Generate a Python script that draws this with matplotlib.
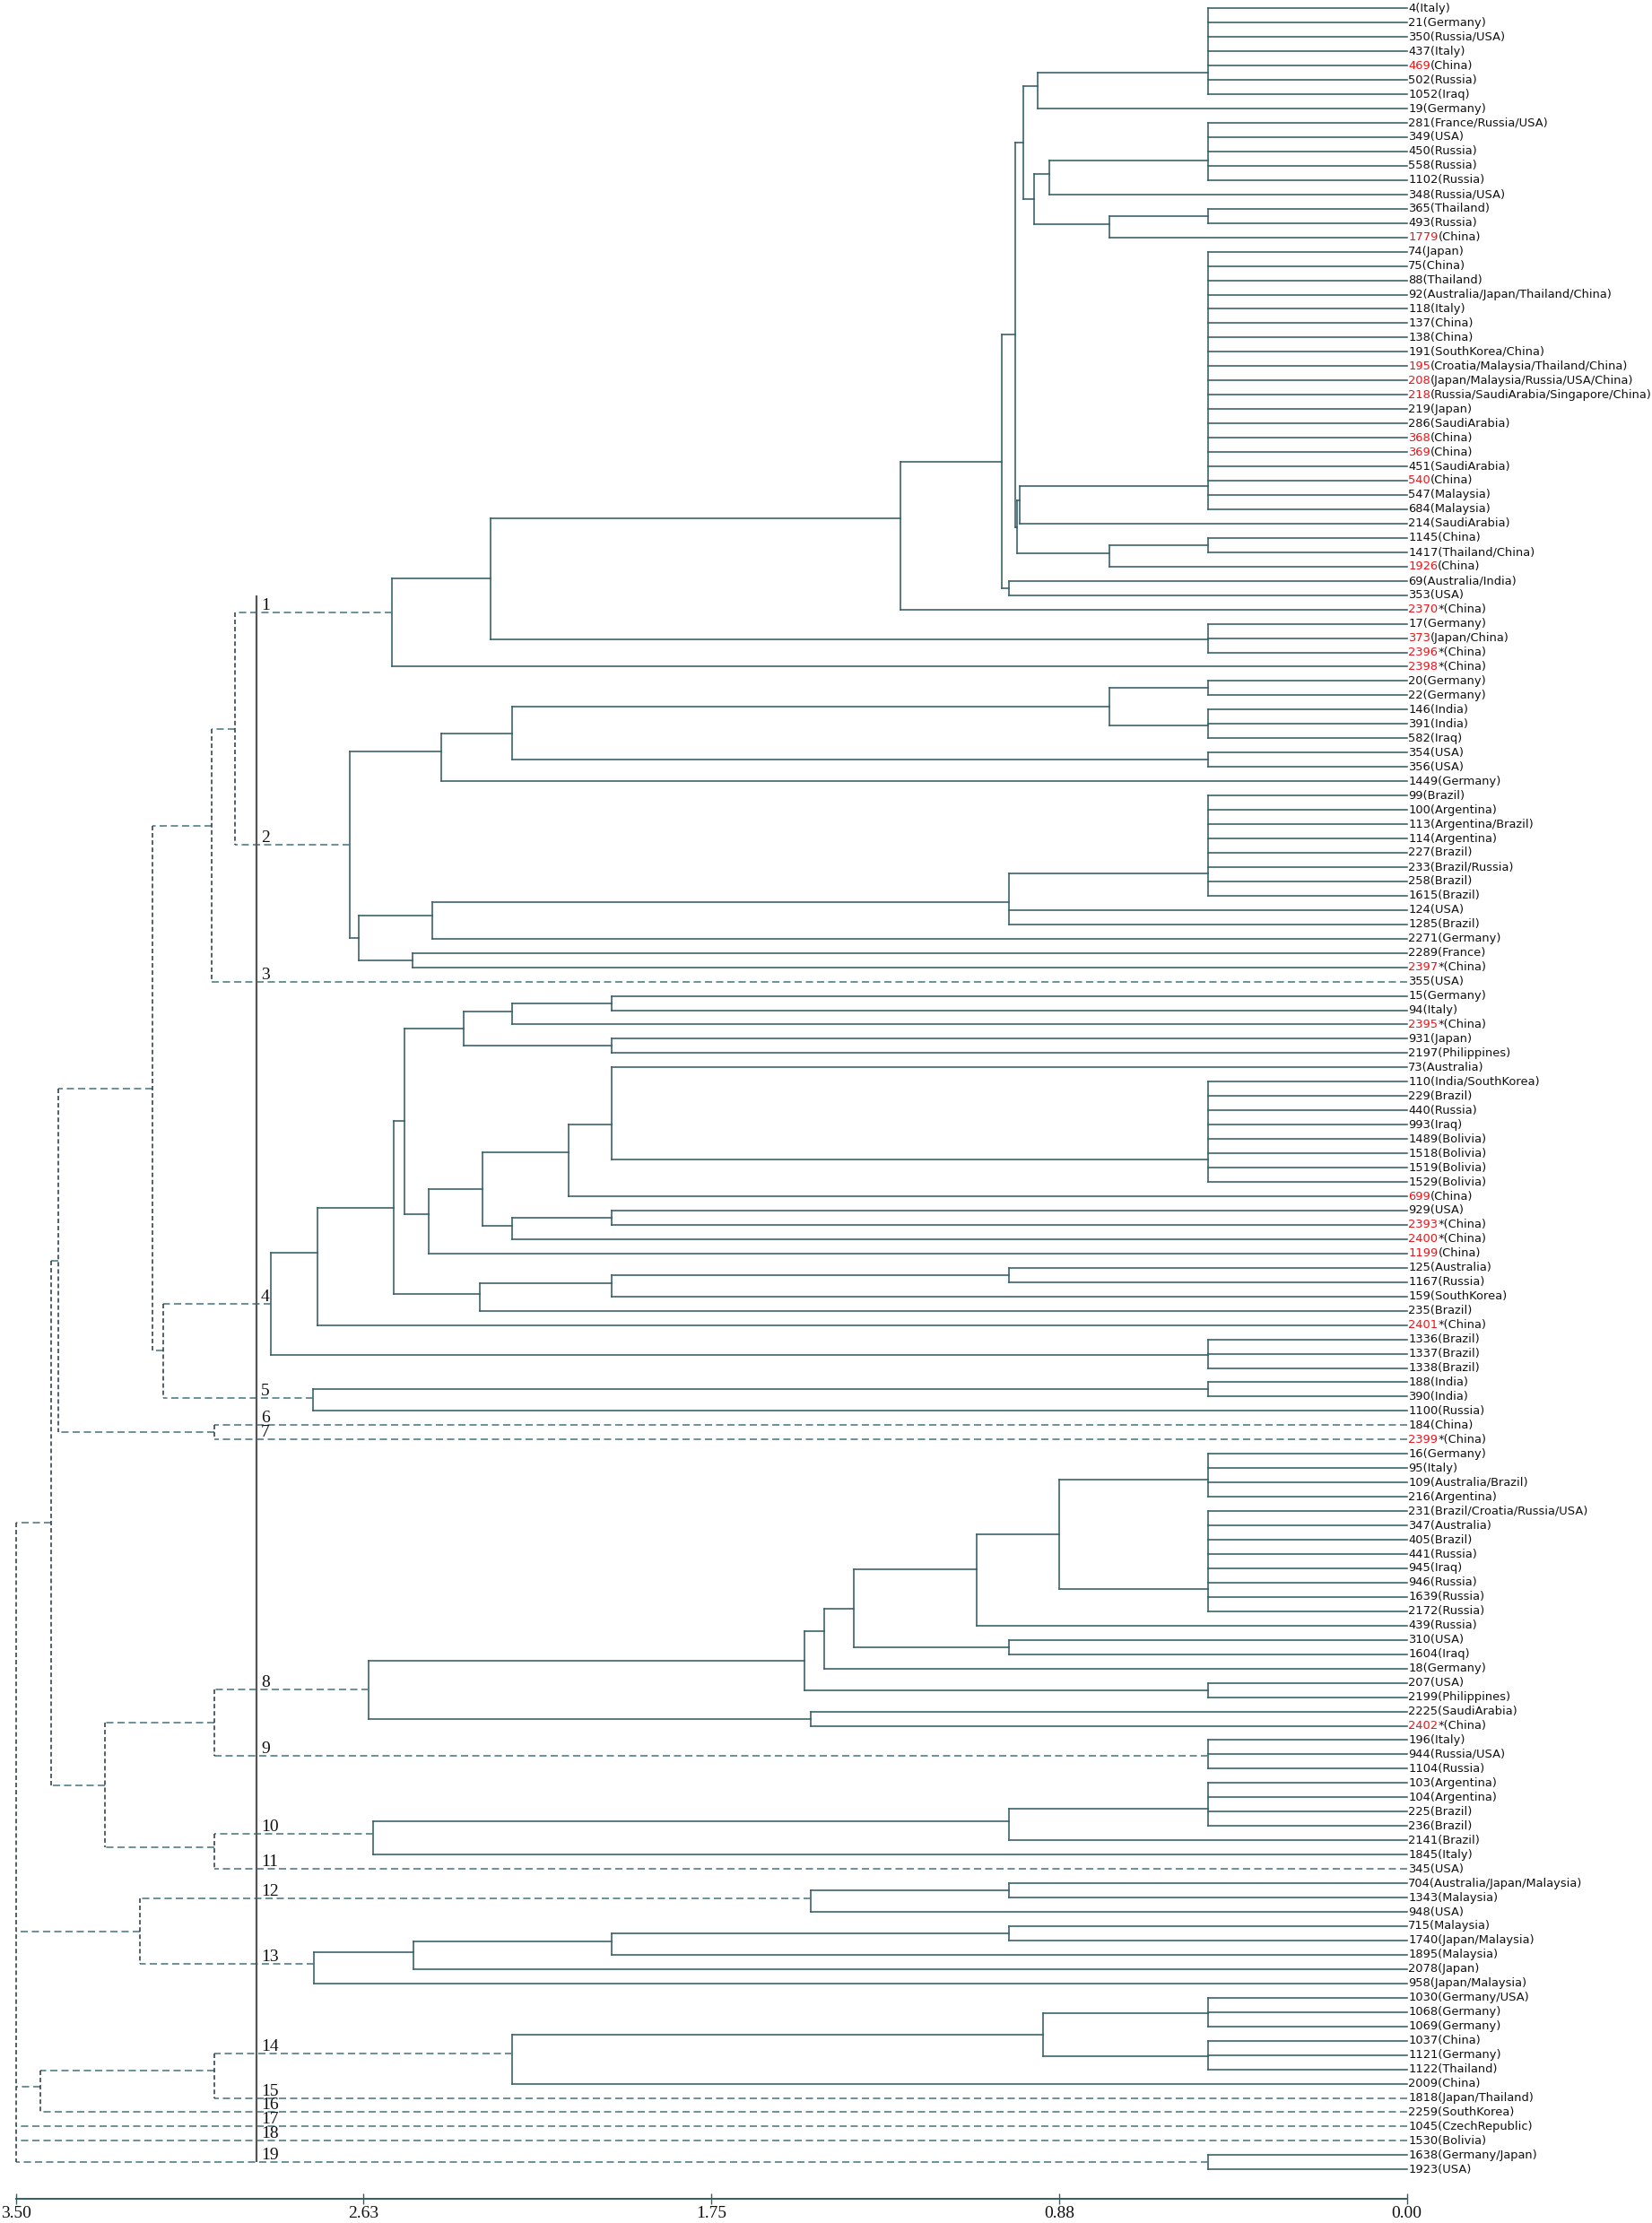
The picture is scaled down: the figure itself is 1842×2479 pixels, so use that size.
import matplotlib
matplotlib.use("Agg")
import matplotlib.pyplot as plt
from matplotlib.collections import LineCollection
from matplotlib.transforms import offset_copy

plt.rcParams['lines.scale_dashes'] = False

# ---------------- data ----------------
leaf_numbers = [
    "4", "21", "350", "437", "469", "502", "1052", "19", "281", "349",
    "450", "558", "1102", "348", "365", "493", "1779", "74", "75", "88",
    "92", "118", "137", "138", "191", "195", "208", "218", "219", "286",
    "368", "369", "451", "540", "547", "684", "214", "1145", "1417", "1926",
    "69", "353", "2370*", "17", "373", "2396*", "2398*", "20", "22", "146",
    "391", "582", "354", "356", "1449", "99", "100", "113", "114", "227",
    "233", "258", "1615", "124", "1285", "2271", "2289", "2397*", "355", "15",
    "94", "2395*", "931", "2197", "73", "110", "229", "440", "993", "1489",
    "1518", "1519", "1529", "699", "929", "2393*", "2400*", "1199", "125", "1167",
    "159", "235", "2401*", "1336", "1337", "1338", "188", "390", "1100", "184",
    "2399*", "16", "95", "109", "216", "231", "347", "405", "441", "945",
    "946", "1639", "2172", "439", "310", "1604", "18", "207", "2199", "2225",
    "2402*", "196", "944", "1104", "103", "104", "225", "236", "2141", "1845",
    "345", "704", "1343", "948", "715", "1740", "1895", "2078", "958", "1030",
    "1068", "1069", "1037", "1121", "1122", "2009", "1818", "2259", "1045", "1530",
    "1638", "1923",
]
leaf_countries = [
    "Italy", "Germany", "Russia/USA", "Italy", "China", "Russia", "Iraq", "Germany",
    "France/Russia/USA", "USA", "Russia", "Russia", "Russia", "Russia/USA", "Thailand",
    "Russia", "China", "Japan", "China", "Thailand", "Australia/Japan/Thailand/China",
    "Italy", "China", "China", "SouthKorea/China", "Croatia/Malaysia/Thailand/China",
    "Japan/Malaysia/Russia/USA/China", "Russia/SaudiArabia/Singapore/China", "Japan",
    "SaudiArabia", "China", "China", "SaudiArabia", "China", "Malaysia", "Malaysia",
    "SaudiArabia", "China", "Thailand/China", "China", "Australia/India", "USA", "China",
    "Germany", "Japan/China", "China", "China", "Germany", "Germany", "India",
    "India", "Iraq", "USA", "USA", "Germany", "Brazil", "Argentina", "Argentina/Brazil",
    "Argentina", "Brazil", "Brazil/Russia", "Brazil", "Brazil", "USA", "Brazil",
    "Germany", "France", "China", "USA", "Germany", "Italy", "China", "Japan",
    "Philippines", "Australia", "India/SouthKorea", "Brazil", "Russia", "Iraq", "Bolivia",
    "Bolivia", "Bolivia", "Bolivia", "China", "USA", "China", "China", "China",
    "Australia", "Russia", "SouthKorea", "Brazil", "China", "Brazil", "Brazil", "Brazil",
    "India", "India", "Russia", "China", "China", "Germany", "Italy", "Australia/Brazil",
    "Argentina", "Brazil/Croatia/Russia/USA", "Australia", "Brazil", "Russia", "Iraq",
    "Russia", "Russia", "Russia", "Russia", "USA", "Iraq", "Germany", "USA",
    "Philippines", "SaudiArabia", "China", "Italy", "Russia/USA", "Russia", "Argentina",
    "Argentina", "Brazil", "Brazil", "Brazil", "Italy", "USA", "Australia/Japan/Malaysia",
    "Malaysia", "USA", "Malaysia", "Japan/Malaysia", "Malaysia", "Japan", "Japan/Malaysia",
    "Germany/USA", "Germany", "Germany", "China", "Germany", "Thailand", "China",
    "Japan/Thailand", "SouthKorea", "CzechRepublic", "Bolivia", "Germany/Japan", "USA",
]
red_numbers = {"469", "1779", "195", "208", "218", "368", "369", "540", "1926", "2370",
               "373", "2396", "2398", "2397", "2395", "699", "2393", "2400", "1199",
               "2401", "2399", "2402"}

# merges: (name, distance, children top-to-bottom); ints are leaf rows
merges = [
    ("c1_a", 0.500, [0, 1, 2, 3, 4, 5, 6]),
    ("c1_b", 0.928, ["c1_a", 7]),
    ("c1_c", 0.500, [8, 9, 10, 11, 12]),
    ("c1_d", 0.900, ["c1_c", 13]),
    ("c1_e", 0.500, [14, 15]),
    ("c1_f", 0.749, ["c1_e", 16]),
    ("c1_g", 0.937, ["c1_d", "c1_f"]),
    ("c1_h", 0.965, ["c1_b", "c1_g"]),
    ("c1_j", 0.500, [17, 18, 19, 20, 21, 22, 23, 24, 25, 26, 27, 28, 29, 30, 31, 32, 33, 34, 35]),
    ("c1_k", 0.973, ["c1_j", 36]),
    ("c1_l", 0.500, [37, 38]),
    ("c1_m", 0.749, ["c1_l", 39]),
    ("c1_n", 0.980, ["c1_k", "c1_m"]),
    ("c1_i", 0.986, ["c1_h", "c1_n"]),
    ("c1_p", 1.000, [40, 41]),
    ("c1_o", 1.019, ["c1_i", "c1_p"]),
    ("c1_q", 1.274, ["c1_o", 42]),
    ("c1_r", 0.500, [43, 44, 45]),
    ("c1_s", 2.305, ["c1_q", "c1_r"]),
    ("c1", 2.554, ["c1_s", 46]),
    ("c2_a", 0.500, [47, 48]),
    ("c2_b", 0.500, [49, 50, 51]),
    ("c2_c", 0.749, ["c2_a", "c2_b"]),
    ("c2_d", 0.500, [52, 53]),
    ("c2_e", 2.250, ["c2_c", "c2_d"]),
    ("c2_f", 2.429, ["c2_e", 54]),
    ("c2_g", 0.500, [55, 56, 57, 58, 59, 60, 61, 62]),
    ("c2_h", 1.000, ["c2_g", 63, 64]),
    ("c2_i", 2.451, ["c2_h", 65]),
    ("c2_j", 2.501, [66, 67]),
    ("c2_k", 2.637, ["c2_i", "c2_j"]),
    ("c2", 2.660, ["c2_f", "c2_k"]),
    ("t12", 2.949, ["c1", "c2"]),
    ("t123", 3.008, ["t12", 68]),
    ("c4_a", 2.000, [69, 70]),
    ("c4_b", 2.250, ["c4_a", 71]),
    ("c4_c", 2.000, [72, 73]),
    ("c4_d", 2.374, ["c4_b", "c4_c"]),
    ("c4_e0", 0.500, [75, 76, 77, 78, 79, 80, 81, 82]),
    ("c4_e", 2.000, [74, "c4_e0"]),
    ("c4_f", 2.110, ["c4_e", 83]),
    ("c4_g", 2.000, [84, 85]),
    ("c4_h", 2.250, ["c4_g", 86]),
    ("c4_i", 2.326, ["c4_f", "c4_h"]),
    ("c4_j", 2.461, ["c4_i", 87]),
    ("c4_k", 2.522, ["c4_d", "c4_j"]),
    ("c4_l", 1.000, [88, 89]),
    ("c4_m", 2.000, ["c4_l", 90]),
    ("c4_n", 2.333, ["c4_m", 91]),
    ("c4_o", 2.549, ["c4_k", "c4_n"]),
    ("c4_p", 2.740, ["c4_o", 92]),
    ("c4_q", 0.500, [93, 94, 95]),
    ("c4", 2.859, ["c4_p", "c4_q"]),
    ("c5_a", 0.500, [96, 97]),
    ("c5", 2.751, ["c5_a", 98]),
    ("t45", 3.129, ["c4", "c5"]),
    ("t1_5", 3.157, ["t123", "t45"]),
    ("t67", 3.000, [99, 100]),
    ("t1_7", 3.393, ["t1_5", "t67"]),
    ("c8_a", 0.500, [101, 102, 103, 104]),
    ("c8_b", 0.500, [105, 106, 107, 108, 109, 110, 111, 112]),
    ("c8_c", 0.874, ["c8_a", "c8_b"]),
    ("c8_d", 1.083, ["c8_c", 113]),
    ("c8_e", 1.000, [114, 115]),
    ("c8_f", 1.392, ["c8_d", "c8_e"]),
    ("c8_g", 1.467, ["c8_f", 116]),
    ("c8_h", 0.500, [117, 118]),
    ("c8_i", 1.515, ["c8_g", "c8_h"]),
    ("c8_j", 1.500, [119, 120]),
    ("c8", 2.612, ["c8_i", "c8_j"]),
    ("c9", 0.500, [121, 122, 123]),
    ("t89", 3.000, ["c8", "c9"]),
    ("c10_a", 0.500, [124, 125, 126, 127]),
    ("c10_b", 1.000, ["c10_a", 128]),
    ("c10", 2.600, ["c10_b", 129]),
    ("t1011", 3.000, ["c10", 130]),
    ("t8_11", 3.275, ["t89", "t1011"]),
    ("t1_11", 3.410, ["t1_7", "t8_11"]),
    ("c12_a", 1.000, [131, 132]),
    ("c12", 1.500, ["c12_a", 133]),
    ("c13_a", 1.000, [134, 135]),
    ("c13_b", 2.000, ["c13_a", 136]),
    ("c13_c", 2.500, ["c13_b", 137]),
    ("c13", 2.750, ["c13_c", 138]),
    ("t1213", 3.187, ["c12", "c13"]),
    ("c14_a", 0.500, [139, 140, 141]),
    ("c14_b", 0.500, [142, 143, 144]),
    ("c14_c", 0.915, ["c14_a", "c14_b"]),
    ("c14", 2.250, ["c14_c", 145]),
    ("t1415", 3.000, ["c14", 146]),
    ("t14_16", 3.438, ["t1415", 147]),
    ("c19", 0.500, [150, 151]),
    ("root", 3.500, ["t1_11", "t1213", "t14_16", 148, 149, "c19"]),
]
cut_level = 2.894
tick_values = [3.5, 2.625, 1.75, 0.875, 0.0]
tick_labels = ["3.50", "2.63", "1.75", "0.88", "0.00"]

# ---------------- styles ----------------
SOLID_C = "#345d68"
DASH_H_C = "#4a7884"
DASH_V_C = "#2e3d43"
CUT_C = "#555555"
RED = "#e8161b"
BLACK = "#111111"
CLUSTER_W = 1.6
LW = 1.15

node_h = {n: h for n, h, _ in merges}
node_ch = {n: ch for n, _, ch in merges}
pos = {}


def child_h(c):
    return 0.0 if isinstance(c, int) else node_h[c]


def weight(c):
    return 1.0 if isinstance(c, int) else CLUSTER_W


def get_pos(c):
    if isinstance(c, int):
        return float(c)
    if c in pos:
        return pos[c]
    ch = node_ch[c]
    p = get_pos(ch[0])
    w = weight(ch[0])
    for cc in ch[1:]:
        pc, wc = get_pos(cc), weight(cc)
        p = (w * p + wc * pc) / (w + wc)
        w = CLUSTER_W
    pos[c] = p
    return p


fig = plt.figure(figsize=(18.42, 24.79), dpi=100)
ax = fig.add_axes([0, 0, 1, 1])
ax.set_xlim(3.5395, -0.6167)
ax.set_ylim(154.74, -0.583)

solid, dash_h, dash_v = [], [], []
clusters = []
for name, h, ch in merges:
    ys = [get_pos(c) for c in ch]
    top = h > cut_level
    (dash_v if top else solid).append([(h, min(ys)), (h, max(ys))])
    for c, y in zip(ch, ys):
        (dash_h if top else solid).append([(child_h(c), y), (h, y)])
        if top and child_h(c) <= cut_level:
            clusters.append(y)

ax.add_collection(LineCollection(solid, colors=SOLID_C, linewidths=LW, capstyle='projecting', zorder=2))
ax.add_collection(LineCollection(dash_h, colors=DASH_H_C, linewidths=LW,
                                 linestyles=[(0, (5.8, 3.2))], zorder=2))
ax.add_collection(LineCollection(dash_v, colors=DASH_V_C, linewidths=LW,
                                 linestyles=[(0, (3.6, 2.2))], zorder=2))

clusters.sort()
ax.plot([cut_level, cut_level], [clusters[0] - 1.2, clusters[-1]], color=CUT_C, lw=1.6, zorder=3,
        solid_capstyle='butt')
num_trans = offset_copy(ax.transData, fig=fig, x=5, y=3, units='dots')
for k, y in enumerate(clusters, 1):
    ax.text(cut_level, y, str(k), transform=num_trans, ha='left', va='baseline',
            fontsize=14, family='Liberation Serif', color=BLACK, zorder=4)

# leaf labels
LBL_FS = 9.4
lbl_trans = offset_copy(ax.transData, fig=fig, x=1.5, y=0, units='dots')
for i, (num, ctry) in enumerate(zip(leaf_numbers, leaf_countries)):
    base = num.rstrip('*')
    if base in red_numbers:
        t = ax.text(0, i, base, transform=lbl_trans, ha='left', va='center',
                    fontsize=LBL_FS, family='DejaVu Sans', color=RED)
        ax.annotate(num[len(base):] + "(" + ctry + ")", xy=(1, 0.5), xycoords=t,
                    ha='left', va='center', fontsize=LBL_FS, family='DejaVu Sans', color=BLACK)
    else:
        ax.text(0, i, f"{num}({ctry})", transform=lbl_trans, ha='left', va='center',
                fontsize=LBL_FS, family='DejaVu Sans', color=BLACK)

# axis
for s in ['left', 'right', 'top']:
    ax.spines[s].set_visible(False)
ax.spines['bottom'].set_position(('data', 153.05))
ax.spines['bottom'].set_bounds(0, 3.5)
ax.spines['bottom'].set_color(SOLID_C)
ax.spines['bottom'].set_linewidth(1.4)
ax.set_yticks([])
ax.set_xticks(tick_values)
ax.set_xticklabels(tick_labels, fontfamily='Liberation Serif', fontsize=14)
ax.tick_params(axis='x', direction='inout', length=8.5, width=1.0, color=SOLID_C,
               pad=1.7, labelcolor=BLACK)

fig.savefig("out.png", dpi=100, facecolor='white')
